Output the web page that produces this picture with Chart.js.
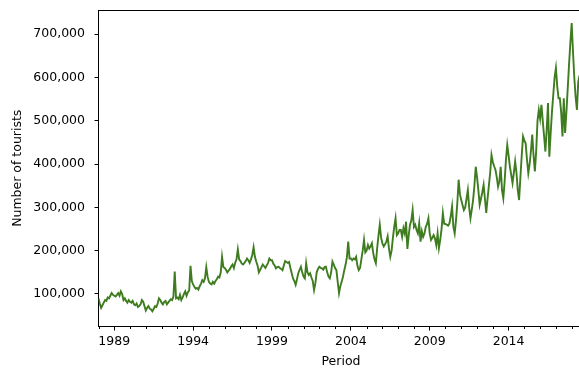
<!DOCTYPE html>
<html>
<head>
<meta charset="utf-8">
<title>Number of tourists by month</title>
<script src="https://cdn.jsdelivr.net/npm/chart.js@4.4.1/dist/chart.umd.min.js"></script>
<style>
  html, body { margin: 0; padding: 0; background: #fff; overflow: hidden; width: 579px; height: 368px; }
  #wrap { width: 586px; height: 370px; }
  canvas { display: block; }
</style>
</head>
<body>
<div id="wrap"><canvas id="chart" width="586" height="370" style="width:586px;height:370px"></canvas></div>
<script>
// Monthly tourist arrivals, January 1988 onwards (one row per year)
const firstYear = 1988;
const tourists = [
  90000, 78000, 68000, 74000, 80000, 86000, 84000, 92000, 90000, 96000, 102000, 98000,          // 1988
  96000, 94000, 98000, 102000, 96000, 106000, 100000, 86000, 90000, 84000, 80000, 86000,        // 1989
  82000, 80000, 84000, 76000, 74000, 78000, 70000, 72000, 76000, 86000, 82000, 72000,           // 1990
  62000, 68000, 72000, 66000, 64000, 60000, 66000, 72000, 70000, 78000, 90000, 86000,           // 1991
  80000, 76000, 82000, 84000, 76000, 80000, 84000, 88000, 86000, 94000, 152000, 90000,          // 1992
  92000, 88000, 98000, 86000, 92000, 100000, 106000, 96000, 104000, 108000, 165000, 130000,     // 1993
  122000, 116000, 112000, 114000, 110000, 118000, 124000, 132000, 128000, 136000, 162000, 140000, // 1994
  128000, 124000, 122000, 128000, 124000, 130000, 134000, 140000, 138000, 150000, 186000, 162000, // 1995
  160000, 156000, 150000, 154000, 158000, 164000, 168000, 160000, 172000, 180000, 203000, 180000, // 1996
  176000, 170000, 168000, 172000, 176000, 182000, 178000, 172000, 180000, 190000, 208000, 186000, // 1997
  175000, 166000, 150000, 156000, 162000, 168000, 164000, 160000, 166000, 172000, 182000, 178000, // 1998
  178000, 170000, 166000, 159000, 162000, 163000, 160000, 158000, 155000, 166000, 176000, 174000, // 1999
  172000, 174000, 160000, 148000, 136000, 130000, 121000, 134000, 148000, 156000, 163000, 150000, // 2000
  140000, 136000, 171000, 150000, 144000, 148000, 138000, 130000, 109000, 125000, 150000, 158000, // 2001
  163000, 160000, 159000, 156000, 162000, 163000, 150000, 140000, 136000, 150000, 175000, 168000, // 2002
  160000, 155000, 128000, 102000, 118000, 128000, 140000, 155000, 168000, 185000, 221000, 182000, // 2003
  182000, 178000, 182000, 180000, 186000, 165000, 155000, 160000, 180000, 200000, 225000, 196000, // 2004
  200000, 213000, 205000, 210000, 217000, 195000, 180000, 171000, 205000, 235000, 260000, 230000, // 2005
  217000, 210000, 215000, 221000, 233000, 205000, 186000, 200000, 230000, 255000, 275000, 236000, // 2006
  240000, 248000, 248000, 232000, 252000, 240000, 267000, 204000, 235000, 260000, 270000, 294000, // 2007
  255000, 260000, 248000, 240000, 263000, 221000, 245000, 232000, 240000, 255000, 262000, 275000, // 2008
  240000, 225000, 230000, 236000, 228000, 213000, 240000, 206000, 225000, 250000, 287000, 262000, // 2009
  262000, 260000, 258000, 263000, 280000, 302000, 255000, 240000, 270000, 310000, 364000, 330000, // 2010
  317000, 305000, 294000, 300000, 320000, 340000, 300000, 275000, 295000, 317000, 350000, 394000, // 2011
  370000, 340000, 306000, 320000, 335000, 352000, 320000, 287000, 320000, 350000, 380000, 421000, // 2012
  405000, 395000, 387000, 370000, 348000, 360000, 394000, 340000, 321000, 360000, 410000, 444000, // 2013
  420000, 394000, 375000, 356000, 380000, 406000, 380000, 340000, 317000, 370000, 420000, 464000, // 2014
  455000, 448000, 410000, 379000, 400000, 430000, 468000, 420000, 383000, 430000, 500000, 525000, // 2015
  505000, 537000, 500000, 465000, 429000, 480000, 541000, 417000, 470000, 520000, 560000, 600000, // 2016
  622000, 580000, 552000, 552000, 520000, 464000, 552000, 472000, 520000, 575000, 630000, 680000, // 2017
  726000, 660000, 600000, 555000, 525000, 590000, 605000                                          // 2018
];
const lastYear = 2018;
const labelledYears = [1989, 1994, 1999, 2004, 2009, 2014];
const yTicks = [100000, 200000, 300000, 400000, 500000, 600000, 700000];

const axisFont = { family: "'DejaVu Sans', sans-serif", size: 12.5 };
const ink = '#000';

// one tick per January; only every fifth year carries a label
const januaryTicks = [];
for (let yr = firstYear; yr <= lastYear; yr++) januaryTicks.push((yr - firstYear) * 12);
const yearOf = v => firstYear + Math.round(v / 12);
const isLabelled = v => labelledYears.includes(yearOf(v));

// top/right spines and the short unlabelled year ticks
const framePlugin = {
  id: 'frame',
  afterDraw(chart) {
    const { ctx, chartArea: a, scales: { x } } = chart;
    ctx.save();
    ctx.strokeStyle = ink;
    ctx.lineWidth = 1;
    ctx.beginPath();
    const top = Math.floor(a.top) + 0.5;
    ctx.moveTo(a.left, top);
    ctx.lineTo(a.right, top);
    ctx.moveTo(Math.floor(a.right) + 0.5, a.top);
    ctx.lineTo(Math.floor(a.right) + 0.5, a.bottom);
    januaryTicks.filter(v => !isLabelled(v)).forEach(v => {
      const px = Math.round(x.getPixelForValue(v)) + 0.5;
      ctx.moveTo(px, a.bottom);
      ctx.lineTo(px, a.bottom + 2.5);
    });
    ctx.stroke();
    ctx.restore();
  }
};

new Chart(document.getElementById('chart'), {
  type: 'line',
  data: {
    datasets: [{
      data: tourists.map((v, i) => ({ x: i, y: v })),
      borderColor: '#3e7c1f',
      borderWidth: 1.9,
      pointRadius: 0,
      tension: 0,
      fill: false
    }]
  },
  options: {
    responsive: false,
    animation: false,
    devicePixelRatio: 1,
    layout: { padding: { top: 10, right: 2.5, left: 0, bottom: 0 } },
    plugins: { legend: { display: false }, tooltip: { enabled: false } },
    scales: {
      x: {
        type: 'linear',
        min: 0,
        max: 369,
        afterBuildTicks: s => { s.ticks = januaryTicks.map(v => ({ value: v })); },
        afterFit: s => { s.height = 43.5; s.paddingLeft = 0; s.paddingRight = 0; },
        ticks: {
          autoSkip: false,
          maxRotation: 0,
          padding: 4,
          color: ink,
          font: axisFont,
          callback: v => isLabelled(v) ? String(yearOf(v)) : ''
        },
        grid: {
          drawOnChartArea: false,
          tickLength: 4,
          tickWidth: 1,
          tickColor: c => (c.tick && isLabelled(c.tick.value)) ? ink : 'rgba(0,0,0,0)'
        },
        border: { display: true, color: ink, width: 1 },
        title: { display: true, text: 'Period', color: ink, font: axisFont, padding: { top: 0, bottom: 1 } }
      },
      y: {
        min: 24900,
        max: 756000,
        afterBuildTicks: s => { s.ticks = yTicks.map(v => ({ value: v })); },
        afterFit: s => { s.width = 98.5; s.paddingTop = 0; s.paddingBottom = 0; },
        ticks: {
          padding: 9.5,
          color: ink,
          font: axisFont,
          callback: v => v.toLocaleString('en-US')
        },
        grid: { drawOnChartArea: false, tickLength: 4, tickWidth: 1, tickColor: ink },
        border: { display: true, color: ink, width: 1 },
        title: { display: true, text: 'Number of tourists', color: ink, font: axisFont, padding: { top: 10.5, bottom: 0 } }
      }
    }
  },
  plugins: [framePlugin]
});
</script>
</body>
</html>
